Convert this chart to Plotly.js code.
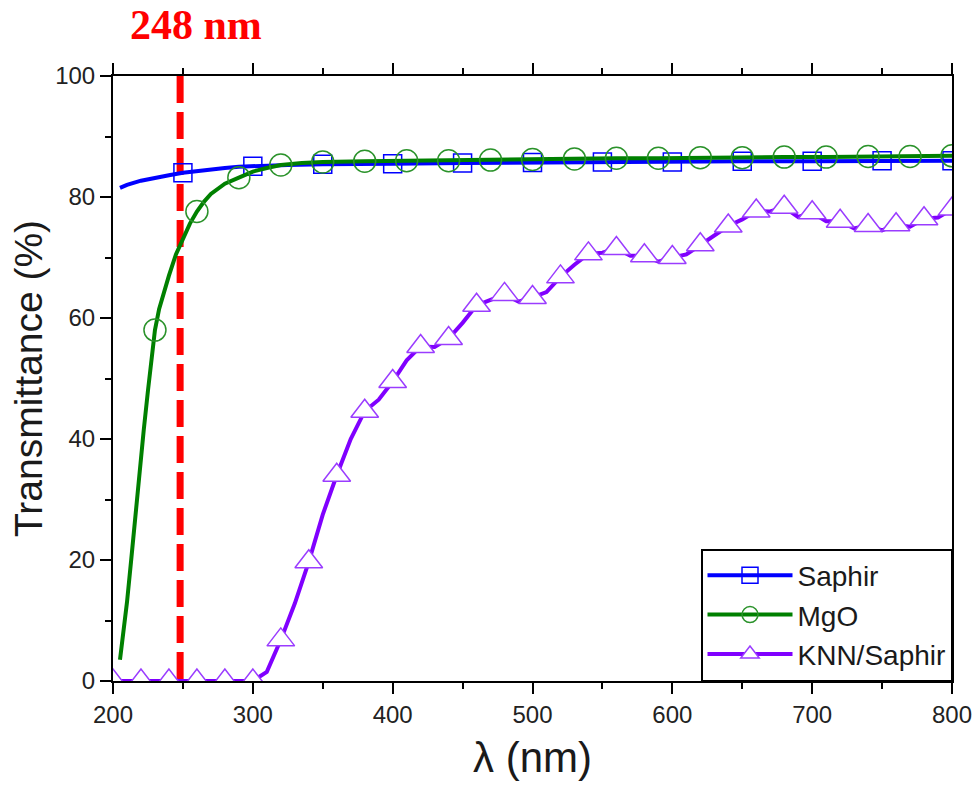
<!DOCTYPE html>
<html>
<head>
<meta charset="utf-8">
<script src="https://cdn.plot.ly/plotly-3.0.1.min.js"></script>
<style>
  html, body { margin: 0; padding: 0; background: #ffffff; }
  #chart { width: 977px; height: 787px; }
</style>
</head>
<body>
<div id="chart"></div>
<script>
// ---------------- data ----------------
const laserNm = 248;
const laserRange = [100, 0];

// Saphir (sapphire substrate)
const saphirX = [205, 210, 220, 230, 240, 250, 260, 270, 280, 290, 300, 325, 350, 375, 400, 450, 500, 550, 600, 650, 700, 750, 800];
const saphirY = [81.5, 82.0, 82.7, 83.2, 83.6, 84.0, 84.3, 84.6, 84.8, 85.0, 85.1, 85.3, 85.4, 85.5, 85.5, 85.6, 85.7, 85.8, 85.8, 85.9, 85.9, 86.0, 86.0];
const saphirMarkX = [250, 300, 350, 400, 450, 500, 550, 600, 650, 700, 750, 800];

// MgO substrate
const mgoX = [205, 207, 210, 213, 216, 219, 222, 225, 228, 230, 233, 236, 240, 245, 250, 255, 260, 265, 270, 280, 290, 300, 310, 320, 335, 350, 380, 410, 440, 470, 500, 530, 560, 590, 620, 650, 680, 710, 740, 770, 800];
const mgoY = [3.5, 7.0, 13.0, 20.0, 27.5, 34.7, 41.5, 48.0, 54.5, 58.0, 61.5, 64.0, 67.0, 70.5, 73.2, 75.6, 77.6, 79.2, 80.5, 82.2, 83.2, 84.2, 84.8, 85.3, 85.6, 85.8, 85.9, 86.0, 86.0, 86.1, 86.2, 86.3, 86.4, 86.4, 86.5, 86.5, 86.6, 86.6, 86.7, 86.7, 86.8];
const mgoMarkX = [230, 260, 290, 320, 350, 380, 410, 440, 470, 500, 530, 560, 590, 620, 650, 680, 710, 740, 770, 800];

// KNN film on Saphir
const knnX = [200, 210, 220, 230, 240, 250, 260, 270, 280, 290, 300, 310, 320, 330, 340, 350, 360, 370, 380, 390, 400, 410, 420, 430, 440, 450, 460, 470, 480, 490, 500, 510, 520, 530, 540, 550, 560, 570, 580, 590, 600, 610, 620, 630, 640, 650, 660, 670, 680, 690, 700, 710, 720, 730, 740, 750, 760, 770, 780, 790, 800];
const knnY = [0, 0, 0, 0, 0, 0, 0, 0, 0, 0, 0, 1.5, 6.8, 12.8, 19.7, 27.5, 34.0, 40.0, 44.6, 46.5, 49.5, 53.0, 55.3, 55.2, 56.6, 59.2, 62.1, 63.0, 63.9, 62.7, 63.4, 64.3, 66.8, 68.8, 70.6, 70.8, 71.5, 70.3, 70.3, 69.3, 70.0, 70.5, 72.1, 73.5, 75.2, 76.3, 77.7, 77.6, 78.3, 76.7, 77.4, 76.0, 76.0, 74.8, 75.3, 74.5, 75.4, 75.1, 76.4, 76.6, 78.0];
const knnMarkX = [200, 220, 240, 260, 280, 300, 320, 340, 360, 380, 400, 420, 440, 460, 480, 500, 520, 540, 560, 580, 600, 620, 640, 660, 680, 700, 720, 740, 760, 780, 800];

const seriesNames = ['Saphir', 'MgO', 'KNN/Saphir'];
const xTitle = 'λ (nm)';
const yTitle = 'Transmittance (%)';

// ---------------- helpers ----------------
function pick(xs, ys, marks) {
  const out = [];
  marks.forEach(m => { const i = xs.indexOf(m); if (i >= 0) out.push(ys[i]); });
  return out;
}

const cBlue = '#0000ff', cGreen = '#008000', cGreenMk = '#2a922a', cPurple = '#8000ff', cPurpleMk = '#9a3cff';

const traces = [
  { x: [laserNm, laserNm], y: laserRange, mode: 'lines', showlegend: false, hoverinfo: 'skip',
    line: { color: '#ff0000', width: 7, dash: '27px,9px' } },

  { x: saphirX, y: saphirY, mode: 'lines', showlegend: false, line: { color: cBlue, width: 4 } },
  { x: saphirMarkX, y: pick(saphirX, saphirY, saphirMarkX), mode: 'markers', showlegend: false,
    marker: { symbol: 'square-open', size: 18, color: cBlue, line: { width: 1.5, color: cBlue } } },

  { x: mgoX, y: mgoY, mode: 'lines', showlegend: false, line: { color: cGreen, width: 4 } },
  { x: mgoMarkX, y: pick(mgoX, mgoY, mgoMarkX), mode: 'markers', showlegend: false,
    marker: { symbol: 'circle-open', size: 22, color: cGreenMk, line: { width: 1.5, color: cGreenMk } } },

  { x: knnX, y: knnY, mode: 'lines', showlegend: false, line: { color: cPurple, width: 4 } },
  { x: knnMarkX, y: pick(knnX, knnY, knnMarkX), mode: 'markers', showlegend: false,
    marker: { symbol: 'triangle-up', size: 24, color: '#ffffff', line: { width: 1.5, color: cPurpleMk } } },

  // legend entries
  { x: [null], y: [null], name: seriesNames[0], mode: 'lines+markers',
    line: { color: cBlue, width: 4 }, marker: { symbol: 'square-open', size: 16, color: cBlue, line: { width: 1.5, color: cBlue } } },
  { x: [null], y: [null], name: seriesNames[1], mode: 'lines+markers',
    line: { color: cGreen, width: 4 }, marker: { symbol: 'circle-open', size: 16, color: cGreenMk, line: { width: 1.5, color: cGreenMk } } },
  { x: [null], y: [null], name: seriesNames[2], mode: 'lines+markers',
    line: { color: cPurple, width: 4 }, marker: { symbol: 'triangle-up', size: 16, color: '#ffffff', line: { width: 1.5, color: cPurpleMk } } }
];

const axisCommon = {
  showgrid: false, zeroline: false,
  showline: true, linecolor: '#000', linewidth: 2,
  ticks: 'outside', ticklen: 11, tickwidth: 2, tickcolor: '#000',
  tickfont: { size: 24, color: '#222' }
};

const layout = {
  width: 977, height: 787,
  margin: { l: 113, r: 25, t: 76, b: 106 },
  paper_bgcolor: '#ffffff', plot_bgcolor: '#ffffff',
  font: { family: 'Liberation Sans, Arial, sans-serif', color: '#1a1a1a' },
  showlegend: true,
  xaxis: Object.assign({}, axisCommon, {
    range: [200, 800], tick0: 200, dtick: 100, mirror: 'ticks',
    minor: { dtick: 50, ticks: 'outside', ticklen: 6, tickwidth: 2, tickcolor: '#000', showgrid: false },
    title: { text: xTitle, font: { size: 42, color: '#1a1a1a' }, standoff: 16 }
  }),
  yaxis: Object.assign({}, axisCommon, {
    range: [0, 100], tick0: 0, dtick: 20, mirror: true,
    minor: { dtick: 10, ticks: 'outside', ticklen: 6, tickwidth: 2, tickcolor: '#000', showgrid: false },
    title: { text: yTitle, font: { size: 39, color: '#1a1a1a' }, standoff: 1 }
  }),
  legend: {
    x: 1, xanchor: 'right', y: 0, yanchor: 'bottom',
    bgcolor: '#ffffff', bordercolor: '#000', borderwidth: 1.5,
    font: { size: 28, color: '#1a1a1a' },
    itemwidth: 85, tracegroupgap: 0
  },
  annotations: [{
    text: '<b>' + laserNm + ' nm</b>', xref: 'paper', yref: 'paper',
    x: 0.099, y: 1.085, xanchor: 'center', yanchor: 'middle', showarrow: false,
    font: { family: 'Liberation Serif, Times New Roman, serif', size: 42, color: '#ff0000' }
  }]
};

Plotly.newPlot('chart', traces, layout, { displayModeBar: false, staticPlot: true });
</script>
</body>
</html>
